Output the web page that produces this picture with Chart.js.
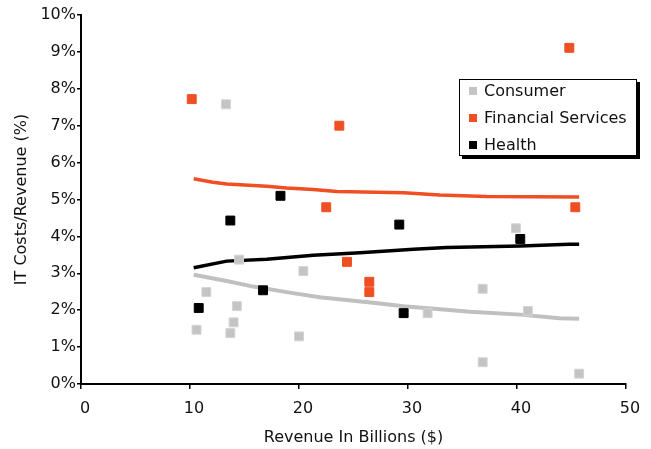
<!DOCTYPE html>
<html lang="en">
<head>
    <meta charset="UTF-8">
    <title>IT Costs vs Revenue</title>
    <style>
        body { margin: 0; background: #fff; font-family: "DejaVu Sans", sans-serif; }
        #wrap { position: relative; width: 651px; height: 449px; }
        #legend {
            position: absolute; left: 459px; top: 79px; width: 176px; height: 75px;
            border: 1.5px solid #000; background: #fff; box-shadow: 3px 3px 0 #000;
            font-size: 16px; color: #111;
        }
        #legend div { position: absolute; left: 24px; height: 20px; line-height: 20px; white-space: nowrap; }
        #legend span { position: absolute; left: -15px; top: 6px; width: 8px; height: 8px; }
    </style>
</head>
<body>
    <div id="wrap">
        <canvas id="chart" width="651" height="449"></canvas>
        <div id="legend">
            <div style="top:1px"><span style="background:#c4c4c4"></span>Consumer</div>
            <div style="top:28px"><span style="background:#f04e23"></span>Financial Services</div>
            <div style="top:55px"><span style="background:#000"></span>Health</div>
        </div>
    </div>
    <script src="https://cdn.jsdelivr.net/npm/chart.js@4/dist/chart.umd.min.js"></script>
    <script>
        // scatter points: revenue ($bn) and IT cost share (%)
        const consumerRevenue = [13.3, 14.5, 20.4, 11.5, 14.3, 14.0, 10.6, 13.7, 20.0, 39.9, 36.85, 31.8, 41.0, 36.85, 45.7];
        const consumerIt      = [7.58, 3.37, 3.06, 2.49, 2.11, 1.67, 1.47, 1.38, 1.29, 4.22, 2.58, 1.92, 1.98, 0.59, 0.28];
        const financialRevenue = [10.16, 23.7, 22.5, 24.4, 26.45, 26.45, 44.8, 45.35];
        const financialIt      = [7.72, 7.0, 4.79, 3.31, 2.77, 2.49, 9.11, 4.79];
        const healthRevenue = [18.3, 13.7, 16.7, 10.8, 29.2, 29.6, 40.3];
        const healthIt      = [5.10, 4.43, 2.54, 2.06, 4.32, 1.92, 3.93];

        // trend lines
        const financialTrendX = [10.34, 12.1, 13.37, 17.04, 18.87, 21.3, 23.46, 29.6, 32.9, 37.2, 45.7];
        const financialTrendY = [5.56, 5.47, 5.42, 5.36, 5.31, 5.27, 5.22, 5.18, 5.12, 5.08, 5.07];
        const healthTrendX = [10.34, 13.37, 17.04, 21.3, 25.6, 30.5, 33.55, 40.3, 44.8, 45.7];
        const healthTrendY = [3.15, 3.33, 3.38, 3.49, 3.56, 3.65, 3.70, 3.74, 3.79, 3.79];
        const consumerTrendX = [10.34, 13.37, 15.8, 18.87, 21.9, 26.8, 29.6, 35.7, 40.3, 43.9, 45.7];
        const consumerTrendY = [2.96, 2.79, 2.64, 2.49, 2.35, 2.20, 2.11, 1.96, 1.88, 1.78, 1.77];

        const xTicks = [0, 10, 20, 30, 40, 50];
        const yTicks = [0, 1, 2, 3, 4, 5, 6, 7, 8, 9, 10];

        const pts = (xs, ys) => xs.map((x, i) => ({ x, y: ys[i] }));
        const font = { family: '"DejaVu Sans", sans-serif', size: 16 };

        function trend(xs, ys, color, width) {
            return {
                data: pts(xs, ys), showLine: true, borderColor: color, borderWidth: width,
                pointRadius: 0, fill: false, tension: 0, order: 2
            };
        }
        function markers(xs, ys, fill, border) {
            return {
                data: pts(xs, ys), pointStyle: 'rect', pointRadius: 6.3,
                backgroundColor: fill, borderColor: border, borderWidth: 1, order: 1
            };
        }

        new Chart(document.getElementById('chart'), {
            type: 'scatter',
            data: {
                datasets: [
                    trend(consumerTrendX, consumerTrendY, '#c0c0c0', 4),
                    trend(healthTrendX, healthTrendY, '#000000', 3.5),
                    trend(financialTrendX, financialTrendY, '#f04e23', 3.5),
                    markers(consumerRevenue, consumerIt, '#c4c4c4', '#d4d4d4'),
                    markers(financialRevenue, financialIt, '#f04e23', '#f04e23'),
                    markers(healthRevenue, healthIt, '#000000', '#000000')
                ]
            },
            options: {
                responsive: false,
                animation: false,
                layout: { padding: { top: 15, right: 25, bottom: 0, left: 0 } },
                plugins: { legend: { display: false }, tooltip: { enabled: false } },
                scales: {
                    x: {
                        min: 0, max: 50,
                        afterBuildTicks: s => { s.ticks = xTicks.map(v => ({ value: v })); },
                        border: { display: true, color: '#000', width: 2 },
                        grid: { drawOnChartArea: false, drawTicks: true, tickLength: 5, color: '#000', lineWidth: 1.5 },
                        ticks: { font, color: '#111', padding: 10, labelOffset: 4, maxRotation: 0 },
                        title: { display: true, text: 'Revenue In Billions ($)', font, color: '#111', padding: 2 },
                        afterFit: s => { s.height = 65; }
                    },
                    y: {
                        min: 0, max: 10,
                        afterBuildTicks: s => { s.ticks = yTicks.map(v => ({ value: v })); },
                        border: { display: true, color: '#000', width: 2 },
                        grid: { drawOnChartArea: false, drawTicks: true, tickLength: 4, color: '#000', lineWidth: 1.5 },
                        ticks: { font, color: '#111', padding: 1, callback: v => v + '%' },
                        title: { display: true, text: 'IT Costs/Revenue (%)', font, color: '#111', padding: 12 },
                        afterFit: s => { s.width = 81; }
                    }
                }
            }
        });
    </script>
</body>
</html>
